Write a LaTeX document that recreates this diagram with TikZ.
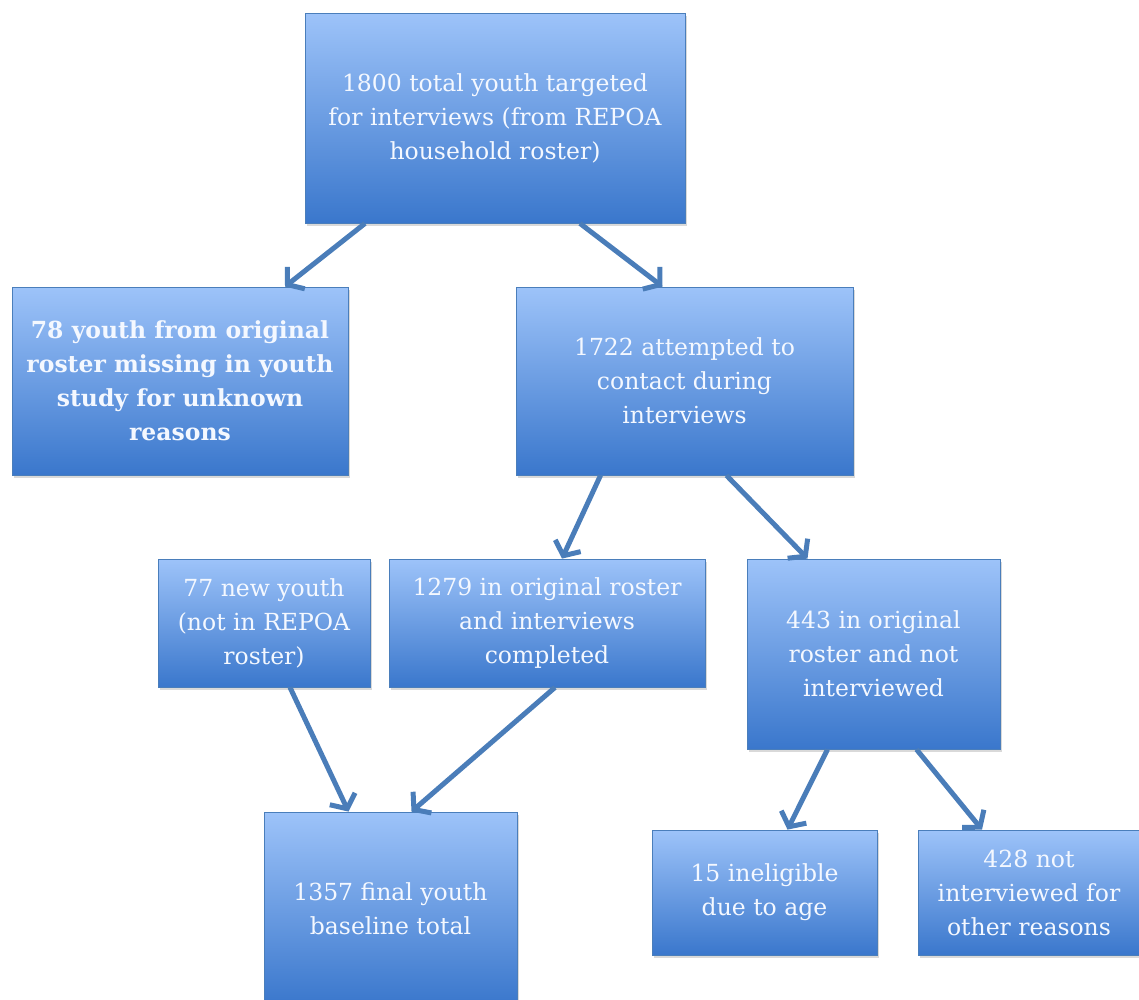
\documentclass[tikz,border=0pt]{standalone}
\usepackage{fontspec}
\setmainfont{DejaVu Serif}
\usepackage{tikz}
\usetikzlibrary{arrows.meta,shadows}
\usepackage{xcolor}
\definecolor{boxtop}{HTML}{9DC3F9}
\definecolor{boxmid}{HTML}{6A9CE5}
\definecolor{boxbot}{HTML}{3A77CC}
\definecolor{boxline}{HTML}{4A7EBB}
\definecolor{arrowblue}{HTML}{4A7DB9}
\definecolor{boxtext}{HTML}{F4F8FF}

\begin{document}
\begin{tikzpicture}[x=1pt,y=-1pt,
  box/.style={draw=boxline,line width=0.8pt,top color=boxtop,middle color=boxmid,bottom color=boxbot,
    text=boxtext,align=center,inner sep=0pt,font=\fontsize{23.5}{34}\selectfont,
    drop shadow={opacity=0.3,shadow xshift=1.5pt,shadow yshift=-3pt}},
  flow/.style={arrowblue,line width=5pt,-{Straight Barb[length=11pt,width=28pt,line width=5pt]}}]
\useasboundingbox (0,0) rectangle (1139,999);

%boxes
\node[box,minimum width=380pt,minimum height=210pt] (total) at (495,118)
  {1800 total youth targeted\\for interviews (from REPOA\\household roster)};
\node[box,minimum width=336pt,minimum height=188pt,font=\fontsize{23.5}{34}\selectfont\bfseries] (missing) at (180,381)
  {78 youth from original\\roster missing in youth\\study for unknown\\reasons};
\node[box,minimum width=337pt,minimum height=188pt] (attempted) at (684.5,381)
  {1722 attempted to\\contact during\\interviews};
\node[box,minimum width=212pt,minimum height=128pt] (newyouth) at (264,623)
  {77 new youth\\(not in REPOA\\roster)};
\node[box,minimum width=316pt,minimum height=128pt] (completed) at (547,623)
  {1279 in original roster\\and interviews\\completed};
\node[box,minimum width=253pt,minimum height=190pt] (notinterviewed) at (873.5,654)
  {443 in original\\roster and not\\interviewed};
\node[box,minimum width=253pt,minimum height=193pt] (final) at (390.5,908.5)
  {1357 final youth\\baseline total};
\node[box,minimum width=225pt,minimum height=125pt] (ineligible) at (764.5,892.5)
  {15 ineligible\\due to age};
\node[box,minimum width=222pt,minimum height=125pt] (other) at (1029,892.5)
  {428 not\\interviewed for\\other reasons};

%arrows
\draw[flow] ([xshift=-130pt]total.south) -- ([xshift=105pt]missing.north);
\draw[flow] ([xshift=85pt]total.south) -- ([xshift=-22pt]attempted.north);
\draw[flow] ([xshift=-84pt]attempted.south) -- ([xshift=15pt]completed.north);
\draw[flow] ([xshift=42pt]attempted.south) -- ([xshift=-66pt]notinterviewed.north);
\draw[flow] ([xshift=26pt]newyouth.south) -- ([xshift=-42pt]final.north);
\draw[flow] ([xshift=8pt]completed.south) -- ([xshift=21pt]final.north);
\draw[flow] ([xshift=-46pt]notinterviewed.south) -- ([xshift=23pt]ineligible.north);
\draw[flow] ([xshift=43pt]notinterviewed.south) -- ([xshift=-47pt]other.north);
\end{tikzpicture}
\end{document}
